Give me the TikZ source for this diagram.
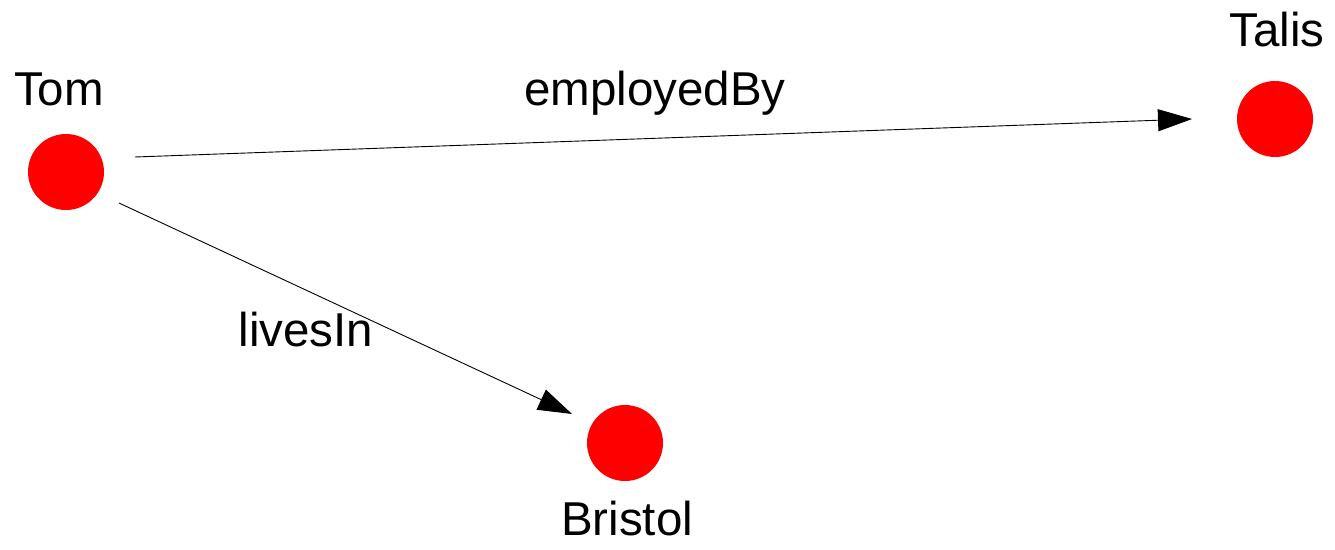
\documentclass[tikz,border=0pt]{standalone}
\usepackage{fontspec}
\setmainfont{Liberation Sans}
\usetikzlibrary{arrows.meta}
\begin{document}
\begin{tikzpicture}[x=1pt,y=-1pt,
  entity/.style={circle,fill=red,minimum size=76pt,inner sep=0pt},
  lbl/.style={anchor=base,inner sep=0pt,font=\fontsize{47.5}{56}\selectfont},
  rel/.style={line width=0.9pt,-{Triangle[length=34pt,width=22pt]}}]
\useasboundingbox (0,0) rectangle (1335,549);
% resources
\node[entity] (tom) at (66,172) {};
\node[entity] (talis) at (1275,119) {};
\node[entity] (bristol) at (625,443) {};
% resource names
\node[lbl] (tomlbl) at (59,105) {Tom};
\node[lbl] (talislbl) at (1277,46) {Talis};
\node[lbl] (bristollbl) at (627,535) {Bristol};
% property arcs
\coordinate (eb-s) at (135,157);
\coordinate (eb-e) at (1192,119);
\coordinate (li-s) at (119,203);
\coordinate (li-e) at (572,414);
\draw[rel] (eb-s) -- (eb-e);
\draw[rel] (li-s) -- (li-e);
\node[lbl] (eblbl) at (655,105) {employedBy};
\node[lbl] (lilbl) at (306,346) {livesIn};
\end{tikzpicture}
\end{document}
